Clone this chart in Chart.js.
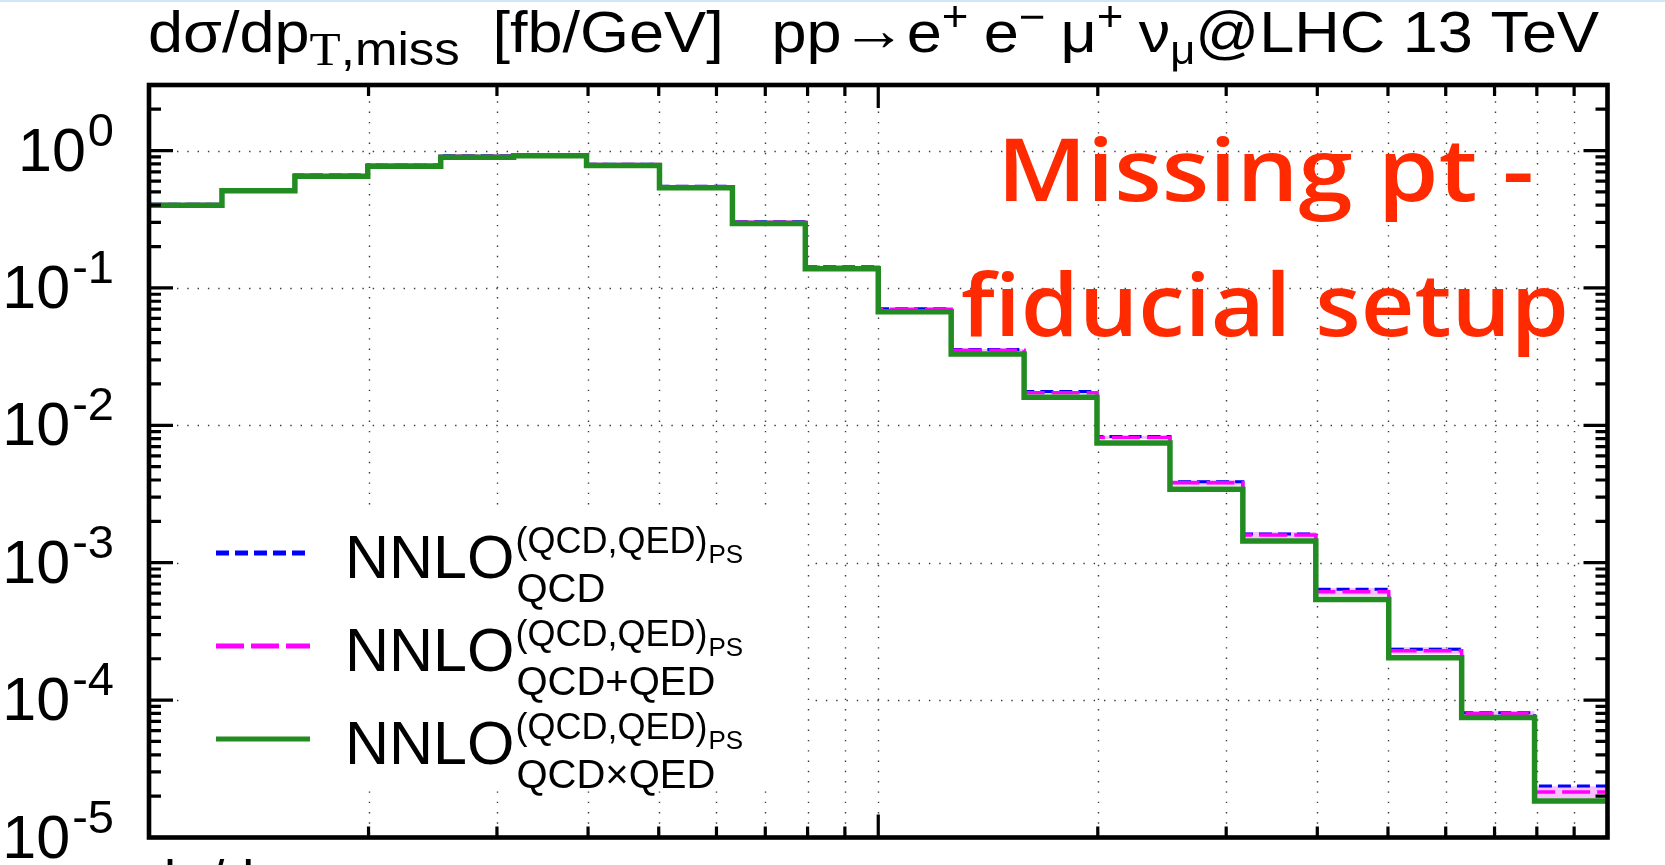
<!DOCTYPE html>
<html>
<head>
<meta charset="utf-8">
<script src="https://cdn.jsdelivr.net/npm/chart.js@4.4.1/dist/chart.umd.min.js"></script>
<style>
  html, body { margin: 0; padding: 0; background: #fff; overflow: hidden; }
  #wrap { width: 1665px; height: 865px; position: relative; }
</style>
</head>
<body>
<div id="wrap"><canvas id="ptmiss"></canvas></div>
<script>
// pT,miss bins (GeV), log spaced, 20 bins
const binEdges = [10, 12.59, 15.85, 19.95, 25.12, 31.62, 39.81, 50.12, 63.10, 79.43,
                  100, 125.9, 158.5, 199.5, 251.2, 316.2, 398.1, 501.2, 631.0, 794.3, 1000];

// dsigma/dpT,miss [fb/GeV]
const nnloQCD = [0.407, 0.520, 0.663, 0.786, 0.915, 0.935, 0.795, 0.549, 0.303, 0.1425,
                 0.0706, 0.0356, 0.0176, 0.0083, 0.00388, 0.00162, 0.00064, 0.000235, 8.1e-5, 2.37e-5];
const nnloQCDplusQED = [0.405, 0.517, 0.660, 0.782, 0.910, 0.930, 0.790, 0.545, 0.301, 0.1415,
                        0.0700, 0.0352, 0.0173, 0.00817, 0.00382, 0.00159, 0.000614, 0.000229, 7.98e-5, 2.14e-5];
const nnloQCDxQED = [0.400, 0.510, 0.650, 0.770, 0.895, 0.915, 0.778, 0.535, 0.294, 0.138,
                     0.0672, 0.0331, 0.0160, 0.00743, 0.00342, 0.00144, 0.00054, 0.000203, 7.46e-5, 1.84e-5];

// scale band of the QCD+QED curve
const plusQEDLow = [0.401, 0.512, 0.653, 0.774, 0.901, 0.921, 0.782, 0.539, 0.297, 0.1395,
                    0.0688, 0.0345, 0.0169, 0.00795, 0.00364, 0.00151, 0.000575, 0.000216, 7.66e-5, 1.93e-5];
const plusQEDHigh = [0.409, 0.522, 0.667, 0.790, 0.919, 0.939, 0.798, 0.551, 0.305, 0.1435,
                     0.0712, 0.0359, 0.0177, 0.0084, 0.00400, 0.00167, 0.000655, 0.000243, 8.3e-5, 2.36e-5];

const yTickExponents = [0, -1, -2, -3, -4, -5];
const xDecades = [10, 100, 1000];
const yMin = 1e-5, yMax = 3;

const SANS = '"Liberation Sans", Arial, sans-serif';
const SERIF = '"Liberation Serif", "Times New Roman", serif';

function histPoints(vals) {
  const pts = vals.map((v, i) => ({ x: binEdges[i], y: v }));
  pts.push({ x: binEdges[vals.length], y: vals[vals.length - 1] });
  return pts;
}

// all x tick positions: 1..9 x each decade
function xTickValues() {
  const out = [];
  for (let i = 0; i < xDecades.length - 1; i++)
    for (let k = 1; k <= 9; k++) out.push(xDecades[i] * k);
  out.push(xDecades[xDecades.length - 1]);
  return out;
}

function yMinorValues() {
  const out = [];
  yTickExponents.forEach(e => {
    for (let k = 2; k <= 9; k++) {
      const v = k * Math.pow(10, e);
      if (v < yMax) out.push(v);
    }
  });
  return out;
}

// draw a run of text pieces with their own size / offset
function drawParts(ctx, x, base, parts, measureOnly) {
  let cx = x;
  parts.forEach(p => {
    if (p.gap) { cx += p.gap; return; }
    ctx.font = p.s + 'px ' + (p.f || SANS);
    if (!measureOnly) ctx.fillText(p.t, cx, base + (p.dy || 0));
    cx += ctx.measureText(p.t).width;
  });
  return cx - x;
}

const titleParts = [
  { t: 'dσ/dp', s: 58 },
  { t: 'T', s: 47, dy: 13, f: SERIF },
  { t: ',miss', s: 47, dy: 13 },
  { gap: 30 },
  { t: '[fb/GeV]', s: 58 },
  { gap: 44 },
  { t: 'pp', s: 58 },
  { t: '→', s: 60, dy: -2 },
  { t: 'e', s: 58 }, { t: '+', s: 42, dy: -21 },
  { gap: 14 },
  { t: 'e', s: 58 }, { t: '−', s: 42, dy: -21 },
  { gap: 14 },
  { t: 'μ', s: 58 }, { t: '+', s: 42, dy: -21 },
  { gap: 14 },
  { t: 'ν', s: 58 }, { t: 'μ', s: 40, dy: 12 },
  { t: '@LHC 13 TeV', s: 58 }
];

const legendSubs = ['QCD', 'QCD+QED', 'QCD×QED'];

// one text line squeezed/stretched to a given span
function fitLine(ctx, text, left, right, base) {
  const w = ctx.measureText(text).width;
  ctx.save();
  ctx.translate(left, base);
  ctx.scale((right - left) / w, 1);
  ctx.fillText(text, 0, 0);
  ctx.restore();
}

const frame = {
  id: 'frame',
  beforeDatasetsDraw(chart) {
    const { ctx, chartArea: a, scales: { x, y } } = chart;
    ctx.save();
    // thin bar along the very top
    ctx.fillStyle = '#d3e6f5';
    ctx.fillRect(0, 0, chart.width, 2);

    // dotted grid
    ctx.strokeStyle = '#3a3a3a';
    ctx.lineWidth = 1.4;
    ctx.setLineDash([1.4, 8.9]);
    xTickValues().forEach(v => {
      if (v <= xDecades[0] || v >= xDecades[xDecades.length - 1]) return;
      const px = Math.round(x.getPixelForValue(v)) + 0.5;
      ctx.beginPath(); ctx.moveTo(px, a.top + 6); ctx.lineTo(px, a.bottom); ctx.stroke();
    });
    yTickExponents.forEach(e => {
      const v = Math.pow(10, e);
      if (v <= yMin) return;
      const py = Math.round(y.getPixelForValue(v)) + 0.5;
      ctx.beginPath(); ctx.moveTo(a.left + 28, py); ctx.lineTo(a.right - 24, py); ctx.stroke();
    });
    ctx.setLineDash([]);

    // legend box hides the grid behind it
    ctx.fillStyle = '#fff';
    ctx.fillRect(182, 507, 625, 278);
    ctx.restore();
  },
  afterDatasetsDraw(chart) {
    const { ctx, chartArea: a, scales: { x, y } } = chart;
    ctx.save();

    // legend
    const rows = [553, 646, 739];
    chart.data.datasets.slice(0, 3).forEach((ds, i) => {
      const ry = rows[i];
      ctx.strokeStyle = ds.borderColor;
      ctx.lineWidth = 5;
      ctx.setLineDash(ds.borderDash || []);
      ctx.beginPath(); ctx.moveTo(216, ry); ctx.lineTo(310, ry); ctx.stroke();
      ctx.setLineDash([]);
      ctx.fillStyle = '#000';
      ctx.textBaseline = 'alphabetic';
      ctx.font = '61px ' + SANS;
      ctx.fillText('NNLO', 345, ry + 25);
      const xs = 345 + ctx.measureText('NNLO').width + 1;
      ctx.font = '36px ' + SANS;
      ctx.fillText('(QCD,QED)', xs, ry);
      const xp = xs + ctx.measureText('(QCD,QED)').width + 1;
      ctx.font = '26px ' + SANS;
      ctx.fillText('PS', xp, ry + 10);
      ctx.font = '40px ' + SANS;
      ctx.fillText(legendSubs[i], xs + 1, ry + 49);
    });

    // annotation
    ctx.fillStyle = '#ff2a00';
    ctx.font = '600 86px "Open Sans", Lato, sans-serif';
    fitLine(ctx, 'Missing pt -', 997, 1534, 201);
    fitLine(ctx, 'f\u200Ciducial setup', 961, 1569, 336);

    // ticks on all four sides
    ctx.strokeStyle = '#000';
    ctx.lineWidth = 3.2;
    xTickValues().forEach(v => {
      const px = x.getPixelForValue(v);
      const len = xDecades.includes(v) ? 23 : 11;
      ctx.beginPath();
      ctx.moveTo(px, a.bottom); ctx.lineTo(px, a.bottom - len);
      ctx.moveTo(px, a.top); ctx.lineTo(px, a.top + len);
      ctx.stroke();
    });
    yTickExponents.forEach(e => {
      const py = y.getPixelForValue(Math.pow(10, e));
      ctx.beginPath();
      ctx.moveTo(a.left, py); ctx.lineTo(a.left + 24, py);
      ctx.moveTo(a.right, py); ctx.lineTo(a.right - 24, py);
      ctx.stroke();
    });
    yMinorValues().forEach(v => {
      const py = y.getPixelForValue(v);
      ctx.beginPath();
      ctx.moveTo(a.left, py); ctx.lineTo(a.left + 12, py);
      ctx.moveTo(a.right, py); ctx.lineTo(a.right - 12, py);
      ctx.stroke();
    });

    // frame
    ctx.lineWidth = 4.6;
    ctx.strokeRect(a.left, a.top, a.right - a.left, a.bottom - a.top);

    // y labels 10^n
    ctx.fillStyle = '#000';
    yTickExponents.forEach(e => {
      const py = y.getPixelForValue(Math.pow(10, e));
      const ex = e === 0 ? '0' : '-' + (-e);
      ctx.font = '47px ' + SANS;
      const we = ctx.measureText(ex).width;
      ctx.font = '61px ' + SANS;
      const wb = ctx.measureText('10').width;
      const x0 = 114 - we - wb - 2;
      ctx.fillText('10', x0, py + 20);
      ctx.font = '47px ' + SANS;
      ctx.fillText(ex, x0 + wb + 2, py - 5);
    });

    // title, fitted to the frame width
    const tw = drawParts(ctx, 0, 0, titleParts, true);
    const sx = (1599 - 148) / tw;
    ctx.save();
    ctx.translate(148, 0);
    ctx.scale(sx, 1);
    drawParts(ctx, 0, 52, titleParts, false);
    ctx.restore();

    // start of the axis label below (cut by the page edge)
    ctx.font = '54px ' + SANS;
    ctx.fillText('dσ/dσ', 146, 898);
    ctx.restore();
  }
};

const stepLine = { stepped: true, pointRadius: 0, pointHoverRadius: 0 };

new Chart(document.getElementById('ptmiss'), {
  type: 'line',
  data: {
    datasets: [
      { ...stepLine, label: 'QCD', data: histPoints(nnloQCD), borderColor: '#0000ff', borderWidth: 3,
        borderDash: [13, 6], fill: false, order: 2 },
      { ...stepLine, label: 'QCD+QED', data: histPoints(nnloQCDplusQED), borderColor: '#ff00ff', borderWidth: 3.5,
        borderDash: [28, 7], fill: false, order: 1 },
      { ...stepLine, label: 'QCDxQED', data: histPoints(nnloQCDxQED), borderColor: '#228b22', borderWidth: 5.5,
        fill: false, order: 0 },
      { ...stepLine, label: 'band low', data: histPoints(plusQEDLow), borderWidth: 0,
        borderColor: 'rgba(0,0,0,0)', fill: false, order: 5 },
      { ...stepLine, label: 'band high', data: histPoints(plusQEDHigh), borderWidth: 0,
        borderColor: 'rgba(0,0,0,0)', backgroundColor: 'rgba(240,140,250,0.55)', fill: '-1', order: 4 }
    ]
  },
  options: {
    responsive: true,
    maintainAspectRatio: false,
    animation: false,
    devicePixelRatio: 1,
    layout: { padding: { left: 149, top: 85, right: 57.5, bottom: 27.5 } },
    plugins: { legend: { display: false }, tooltip: { enabled: false } },
    scales: {
      x: { type: 'logarithmic', min: xDecades[0], max: xDecades[xDecades.length - 1], display: false },
      y: { type: 'logarithmic', min: yMin, max: yMax, display: false }
    }
  },
  plugins: [frame]
});
</script>
</body>
</html>
